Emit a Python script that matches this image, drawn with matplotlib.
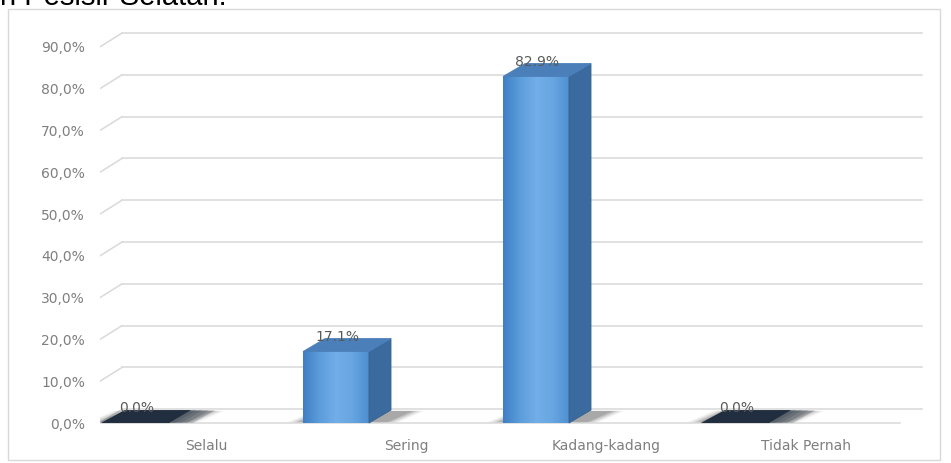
import numpy as np
import matplotlib.pyplot as plt
from matplotlib.patches import Polygon, Rectangle
from matplotlib.colors import LinearSegmentedColormap

categories = ["Selalu", "Sering", "Kadang-kadang", "Tidak Pernah"]
values = [0.0, 17.1, 82.9, 0.0]
value_labels = ["0.0%", "17.1%", "82.9%", "0.0%"]
yticks = [0, 10, 20, 30, 40, 50, 60, 70, 80, 90]

W, H = 951, 463
fig = plt.figure(figsize=(W / 100, H / 100), dpi=100)

# axes placed so the front plane of the 3d box lines up with the picture
ax = fig.add_axes([100 / W, (H - 432) / H, 830 / W, 407 / H])
ax.set_facecolor("none")

bw = 0.33          # front face width
dx, dy = 0.11, 3.3  # depth of floor / back wall
bdx, bdy = 0.11, 3.1  # depth of bars
x_left, x_right = -0.18, 3.82
grid_c = "#d9d9d9"

# back wall gridlines and side-wall diagonals
for t in yticks:
    ax.plot([x_left + dx, x_right + dx], [t + dy, t + dy], color=grid_c, lw=1.1, zorder=1)
    ax.plot([x_left, x_left + dx], [t, t + dy], color=grid_c, lw=1.1, zorder=1)
# floor front edge
ax.plot([x_left, x_right], [0, 0], color=grid_c, lw=1.1, zorder=1)

front_cmap = LinearSegmentedColormap.from_list(
    "front", ["#3f7fc4", "#5c9ddc", "#72aee8", "#68a6e2", "#4f8fd0"])

for i, v in enumerate(values):
    x0 = i - bw / 2
    x1 = i + bw / 2
    # soft shadow on the floor
    for k in range(6):
        e = 0.012 * k
        a = 0.10 - 0.014 * k
        ax.add_patch(Polygon([(x0 - e - 0.02, 0.2), (x1 + e + 0.09, 0.2),
                              (x1 + bdx + e + 0.11, bdy - 0.2), (x0 + bdx - e, bdy - 0.2)],
                             closed=True, facecolor="#000000", alpha=max(a, 0.02),
                             edgecolor="none", zorder=2))
    if v > 0:
        ax.imshow(np.linspace(0, 1, 64).reshape(1, -1), cmap=front_cmap,
                  extent=[x0, x1, 0, v], aspect="auto", zorder=4)
        ax.add_patch(Polygon([(x1, 0), (x1 + bdx, bdy), (x1 + bdx, v + bdy), (x1, v)],
                             closed=True, facecolor="#3b6a9e", edgecolor="#36628f",
                             lw=0.6, zorder=4))
        ax.add_patch(Polygon([(x0, v), (x1, v), (x1 + bdx, v + bdy), (x0 + bdx, v + bdy)],
                             closed=True, facecolor="#4a7fba", edgecolor="#4a7fba",
                             lw=0.6, zorder=4))
    else:
        # flat bar: dark top face with fading edge
        for k in range(5):
            e = 0.03 * k
            ax.add_patch(Polygon([(x0 - 0.01, 0), (x1 + e, 0),
                                  (x1 + bdx + e, bdy), (x0 + bdx, bdy)],
                                 closed=True, facecolor="#1b2a3b",
                                 alpha=0.9 if k == 0 else 0.18,
                                 edgecolor="none", zorder=3))
    ax.text(i + 0.005, v + 3.5, value_labels[i], ha="center", va="center",
            fontsize=10, color="#595959", family="DejaVu Sans", zorder=5)

ax.set_xlim(-0.18, 3.97)
ax.set_ylim(-2.15, 95.22)
ax.set_yticks(yticks)
ax.set_yticklabels([f"{t:.1f}%".replace(".", ",") for t in yticks])
ax.set_xticks([i + 0.35 for i in range(len(categories))])
ax.set_xticklabels(categories)
ax.tick_params(axis="y", length=0, pad=10.8, labelsize=10, labelcolor="#7f7f7f")
ax.tick_params(axis="x", length=0, pad=5, labelsize=10, labelcolor="#7f7f7f")
for s in ax.spines.values():
    s.set_visible(False)

# chart area border
fig.patches.append(Rectangle((8 / W, (H - 460) / H), 932 / W, 451 / H,
                             transform=fig.transFigure, fill=False,
                             edgecolor="#d9d9d9", lw=1.0))
# caption cut off at the top of the picture
fig.text(0.0, 1 - 5 / H, "n Pesisir Selatan.", fontsize=21,
         family="Liberation Sans", color="black", va="baseline", ha="left")

fig.savefig("out.png", dpi=100)
